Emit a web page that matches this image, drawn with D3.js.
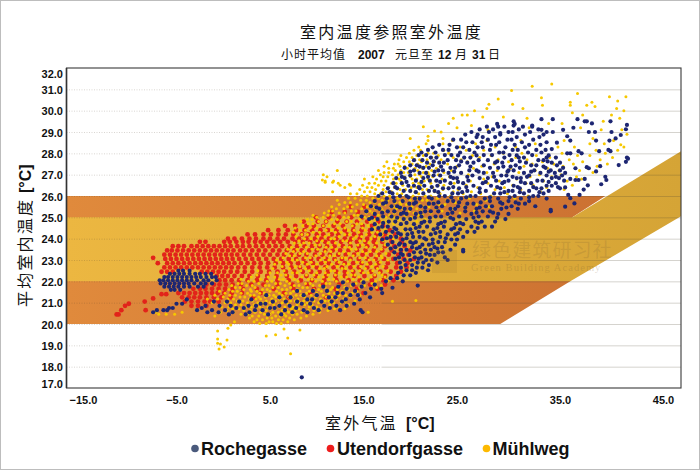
<!DOCTYPE html>
<html>
<head>
<meta charset="utf-8">
<script src="https://cdn.jsdelivr.net/npm/d3@7"></script>
<style>
html, body { margin: 0; padding: 0; background: #fff; }
svg { display: block; }
.tick-label { font: bold 11px "Liberation Sans", Arial, sans-serif; fill: #111; }
.cjk { font-family: "Noto Sans CJK SC", sans-serif; fill: #111; }
.latin { font-family: "Liberation Sans", Arial, sans-serif; font-weight: bold; fill: #111; }
</style>
</head>
<body>
<div id="chart"></div>
<script>
// tick labels
var xTicks = [-15, -5, 5, 15, 25, 35, 45];
var yTicks = [17, 18, 19, 20, 21, 22, 23, 24, 25, 26, 27, 28, 29, 30, 31, 32];

// comfort bands, [outdoor, indoor] in deg C
var outerBand = [[-16.8,20],[29.2,20],[36,22],[36.2,25],[39.4,26],[-16.8,26]];
var innerBand = [[-16.8,22],[36,22],[46.75,25.05],[46.75,28.1],[36.2,25],[-16.8,25]];

// series; dense clouds are a hand-read thinning, one row per indoor temp
var utendorfRows = [
[25.5,[13.6,15.1]],
[25.25,[11.6,13,14.4]],
[25,[9.9,11.3,12.4,13.7,14.9,16.1]],
[24.8,[8.6,10.1,11,12.2,13.2,14.3,15.4,16.6]],
[24.6,[6.6,7.7,8.9,9.7,10.7,11.8,12.8,13.9,14.9,15.9,17.1]],
[24.4,[4.8,5.9,6.9,7.8,8.7,9.5,10.4,11.2,12.1,13,13.9,14.8,15.7,16.6,17.8]],
[24.2,[2.6,3.4,4.3,5.1,5.9,6.7,7.5,8.4,9.1,10,10.7,11.6,12.3,13.2,14,14.7,15.6,16.4,17.3,18.4]],
[24,[0.5,1.2,2,2.8,3.5,4.3,5,5.8,6.5,7.4,8.1,8.9,9.8,10.5,11.3,12.1,13,13.7,14.6,15.4,16.2,17.1,18,19]],
[23.85,[-2.5,-1.9,0.1,0.7,1.4,2.1,2.7,3.4,4,4.7,5.4,6.1,6.9,7.7,8.5,9.3,10.1,10.9,11.7,12.6,13.5,14.3,15.2,16.1,17,18,19.1]],
[23.65,[-5.4,-4.8,-4.2,-3.4,-2.8,-2.2,-1.6,-1,-0.4,0.2,0.8,1.5,2.1,2.8,3.5,4.2,4.9,5.6,6.3,7.1,7.9,8.7,9.5,10.3,11.1,11.9,12.8,13.6,14.5,15.4,16.3,17.3,18.3,19.4]],
[23.45,[-6,-5.5,-4.9,-4.3,-3.7,-3.1,-2.5,-1.9,-1.3,-0.7,-0.1,0.5,1.1,1.8,2.4,3.1,3.8,4.5,5.3,6,6.8,7.6,8.4,9.2,10,10.9,11.7,12.5,13.4,14.3,15.2,16.1,17,18,19,20]],
[23.25,[-6.3,-5.7,-5.1,-4.5,-3.9,-3.3,-2.7,-2.1,-1.5,-0.9,-0.3,0.3,0.9,1.5,2.2,2.9,3.6,4.3,5,5.8,6.5,7.3,8.1,8.9,9.8,10.6,11.4,12.3,13.1,14,14.9,15.8,16.7,17.7,18.7,19.8]],
[23.1,[-7.5]],
[23.05,[-6.2,-5.6,-5,-4.4,-3.8,-3.2,-2.6,-2,-1.4,-0.8,-0.2,0.4,1,1.7,2.4,3.1,3.8,4.6,5.4,6.2,7,7.8,8.6,9.4,10.2,11,11.9,12.7,13.6,14.5,15.4,16.3,17.2,18.2,19.3,20.4]],
[22.85,[-7,-6,-5.4,-4.8,-4.2,-3.6,-3,-2.4,-1.8,-1.2,-0.6,0,0.6,1.2,1.9,2.6,3.3,4,4.8,5.6,6.4,7.2,8,8.8,9.6,10.5,11.3,12.2,13,13.9,14.8,15.7,16.6,17.6,18.6,19.7]],
[22.65,[-6.3,-5.7,-5.1,-4.5,-3.9,-3.3,-2.7,-2.1,-1.5,-0.9,-0.3,0.3,0.9,1.6,2.3,3.1,3.9,4.7,5.5,6.4,7.3,8.2,9.1,10,10.9,11.8,12.7,13.6,14.5,15.4,16.4,17.4,18.5,19.6]],
[22.45,[-6.6,-6,-5.4,-2.3,-1.7,-1.1,-0.5,0.1,0.8,1.5,2.3,3.1,4,4.9,5.8,6.7,7.6,8.5,9.4,10.3,11.2,12.1,13,13.9,14.8,15.8,16.8,17.9,19]],
[22.25,[-0.7,-0.1,0.5,1.2,2,2.8,3.7,4.7,5.7,6.8,7.8,8.9,9.9,11,12,13,14,15.1,16.2,17.3,18.5]],
[22.05,[-0.4,0.2,0.9,1.7,2.6,3.6,4.6,5.8,7,8.3,9.5,10.8,12.1,13.4,14.6,15.9,17.1,18.2]],
[21.85,[-1.8,-1,-0.4,0.3,1,1.9,3,4.3,5.8,7.4,9,10.7,12.4,14,15.7,17.3]],
[21.65,[-3.2,-2.5,-1.9,-1.2,-0.5,0.2,1,2.1,3.6,5.4,7.5,9.7,12,14.3,16.5]],
[21.45,[-4.8,-4.2,-3.6,-3,-2.4,-1.8,-1.2,-0.6,0.1,0.9,2,4,6.5,9.3,12.2,15]],
[21.25,[-4.4,-3.7,-3.1,-2.5,-1.8,-1,-0.2,0.8,3.2,7,11]],
[21.05,[-4.1,-3.4,-2.7,-2,-1.4,-0.5]],
[20.85,[-3.4,-2.7,-1.8]]
];
var utendorfSparse = [[-11.4,20.45],[-11.2,20.45],[-10.9,20.65],[-10.5,20.85],[-10.1,20.95],[-8.4,21.05],[-8.3,20.65],[-7.5,21.2],[-6.6,21.4],[-6.1,21.4]];

var muhlwegRows = [
[20.02,[3.9,4.6,5.7,6.2]],
[20.1,[1.2,3.3,4.9,5.3,6.9]],
[20.2,[3.6,4.2,5.9,6.4,7.6]],
[20.28,[2.8,4.7,5.2,7.1,8.3]],
[20.37,[-0.9,3.1,3.8,5.6,6.1,6.7,8.9]],
[20.46,[-6.9,-6.1,-5.2,1.9,2.6,4.4,5,6.5,7.4,7.9,9.6]],
[20.55,[-7.2,-4.4,-0.3,1.1,3.4,4,5.3,5.9,7,8.4,10.3,15.5]],
[20.63,[0.4,2.2,2.9,4.6,6.3,6.8,7.7,9.1,9.7,11.2]],
[20.72,[1,1.7,3.5,4.2,5.1,5.6,7.3,8.1,8.6,10.4,11.9,13]],
[20.8,[-0.2,0.6,2.4,3,3.9,4.8,6,6.6,7.5,9.2,10,12.2]],
[20.9,[1.3,1.9,3.3,4.4,5.4,5.9,7,7.9,8.7,9.5,10.8,11.4,13.4]],
[21,[-1.2,0.2,0.8,2.6,3.7,4.2,5,6.3,6.8,8.2,9,10.2,11.8,12.6]],
[21.08,[1.5,2.1,3.1,4.6,5.6,7.2,7.7,8.6,9.7,10.9,11.3,13.1,14.1]],
[21.17,[-1.7,-0.6,0.5,1.1,2.8,3.5,4,5.2,6,6.5,8,9.3,10.4,12.1,12.9]],
[21.26,[0,1.8,2.3,3.8,4.5,5.6,7,7.4,8.7,9.9,11,11.6,13.6]],
[21.35,[-0.9,0.7,1.3,2.9,3.3,4.9,5.4,6.3,7.8,8.3,9.4,10.7,12.4,13.1,14.6]],
[21.44,[0.2,1.9,2.6,3.9,4.4,6,6.7,7.2,8.9,10,11.3,11.9,13.8,15.2]],
[21.53,[-0.4,1,1.5,3,3.6,5,5.7,7.5,8.2,9.2,10.5,12.7,14.3]],
[21.62,[0.6,2.2,2.9,4.2,4.7,6.3,6.8,7.9,9.7,10.2,11.5,12.2,13.4,15.7]],
[21.71,[1.3,1.8,3.4,5.3,5.9,7.2,8.5,9,10.9,11.7,13,14.6,16.4]],
[21.8,[0.9,2.5,3.1,4.5,4.9,6.6,7.6,8.1,9.6,10.3,12.3,13.7,15.1,16.9]],
[21.9,[1.6,2,3.8,5.6,6.1,7.1,8.8,9.3,11,11.4,12.9,14.2,15.9]],
[22,[2.7,3.3,4.7,5.2,6.8,8,9.9,10.6,12.1,13.3,14.8,16.3,17.6]],
[22.1,[1.9,4,6,6.4,7.6,9.1,9.5,11.3,11.8,13.9,15.4,16.8]],
[22.2,[3,4.8,5.5,7.2,8.4,10.2,10.7,12.6,13.2,14.5,15.8,17.3]],
[22.3,[3.6,6.2,6.7,8.9,9.7,11.2,12,13.7,14.1,16.2,17]],
[22.4,[5,5.8,7.4,7.9,10,10.9,12.4,13.3,15,15.5,16.7]],
[22.5,[3.7,6.5,8.3,9.2,11.5,11.9,13.8,14.6,16,17.6]],
[22.6,[5.3,7.1,8.8,10.3,10.8,12.7,13.1,15.2,16.5]],
[22.7,[6.3,7.7,8.2,9.6,11.1,12.2,14,14.7,15.9,17.1]],
[22.8,[5.5,7,9,10,11.6,12.9,13.4,15.4,16.3]],
[22.9,[6.1,6.8,8.5,9.4,10.9,12.4,14.3,14.9,16.8]],
[23,[5.7,7.4,7.9,10.4,11.3,12,13.6,15.6,16.1,17.6]],
[23.1,[6.4,8.8,9.3,10.8,12.7,13.1,14.6,15.2,17]],
[23.2,[7.1,7.6,9.9,11.4,11.9,13.9,16.4,16.9]],
[23.3,[6.7,8.2,9,10.4,12.4,13.4,14.4,15.3,17.4]],
[23.4,[7.5,8.6,10.9,11.5,12.9,14.9,15.7,16.4]],
[23.5,[6.9,7.9,9.5,10.1,12.1,13.7,14.2,16.9]],
[23.6,[7.3,8.9,11,11.6,13,13.5,15.3,16.2]],
[23.7,[8.2,9.8,10.3,12.4,14.4,14.9,17.3]],
[23.8,[7.6,8.6,9.2,11.2,12,13.6,15.6,16.4]],
[23.9,[8.1,10,10.6,12.8,13.2,14.6,15.1,17.1]],
[24,[8.7,9.4,11.5,11.9,13.9,15.8,16.7,18.2]],
[24.1,[7.8,10.1,10.9,12.4,14.2,14.8,16.2,17.6]],
[24.2,[8.4,9,11.3,13,13.5,15.3,17,18.7]],
[24.3,[7.5,9.6,10.3,12,12.6,14.5,15.9,16.5,18.1]],
[24.4,[8.2,8.8,11,11.6,13.4,14,15.2,17.3,19.3]],
[24.5,[7.7,9.3,10,12.3,13,14.9,16.1,16.8,18.4]],
[24.6,[8.5,10.7,11.3,13.8,15.5,17.6,19,20.3]],
[24.7,[9.1,9.6,11.9,12.5,14.3,14.8,16.4,18.2,19.6]],
[24.8,[8.3,10.2,11,13.2,13.7,15.7,17,17.5,20.7]],
[24.9,[9,9.5,11.6,12.2,14.6,16.2,18.8,19.3,21.6]],
[25,[10,10.7,12.9,13.4,15.1,15.6,17.4,18.2,20.1,22.6]],
[25.1,[9.6,11.2,11.8,14,14.4,16.6,17.8,19.5,20.9,21.3,24]],
[25.2,[10.8,12.4,13,15.3,16,18.3,18.9,20.4,22.2,25.3]],
[25.3,[11.3,11.7,13.7,14.2,15.7,17.1,17.6,19.9,21.1,21.6,23.4,26.7]],
[25.4,[12.1,12.9,14.8,16.3,16.9,18.5,19.2,20.7,22.8,24.6]],
[25.5,[11.6,13.3,13.8,15.4,16,17.9,18.2,20.2,21.5,22,25.7,28.1]],
[25.6,[12.4,14.3,15,16.7,17.3,19,19.6,21,23.1,23.7,26.9]],
[25.7,[13,13.6,15.7,16.2,18.4,18.9,20.5,22.5,24.8,29.4]],
[25.8,[12.2,14.7,15.3,17,17.6,19.3,20,21.3,21.8,23.9,27.8]],
[25.9,[13.4,14.1,16,16.6,18.2,18.7,20.8,22.9,25.2,26.2,30.6]],
[26,[14.8,15.4,17.2,17.8,19.5,20.3,21.6,22.2,24.3,28.3,31.9]],
[26.1,[13.6,14.3,16.2,16.8,18.6,19.1,20.9,23.2,25.6,27.3,29.9]],
[26.2,[11.7,15.1,15.7,17.4,18,20,20.5,22,22.6,24.6,26.4,33.1]],
[26.3,[14.6,16.3,17.1,18.9,19.5,21.3,21.8,23.5,25.1,28.7,31.2,35.4]],
[26.4,[13,15.4,15.9,17.7,18.3,20.1,20.7,22.4,24.1,27,29.6,33.7]],
[26.5,[13.6,14.9,16.6,17.2,19.2,19.8,21.1,23,23.6,25.9,30.4,32.4,36.2]],
[26.6,[12.3,15.6,16.2,18,18.5,20.3,20.9,22.2,24.7,28,31.7,34.6]],
[26.7,[10.9,11.8,16.9,17.4,19,19.6,21.5,22.7,26.3,29.1,33.4,35.7]],
[26.8,[15.1,16.4,18.2,18.8,20.2,20.7,21.9,23.4,25,27.6,30.8,37.1]],
[26.9,[16,17.1,17.6,19.4,20,21.2,22.4,24.2,28.4,32.1,34.2,36.6]],
[27,[10.7,16.8,18.1,18.7,20.5,21,22,23,26.1,29.8,33,35.1]],
[27.1,[17.2,17.7,19.3,19.8,21.4,21.9,23.6,25.4,27.9,31,38.2]],
[27.2,[12.2,16.6,18.4,19,20.3,20.8,22.3,24.4,28.9,32.6,34.9,36.9]],
[27.3,[17.7,18.2,19.7,20.5,21.3,22.8,26.6,30.2,33.8,37.7]],
[27.4,[17.2,18.9,19.4,21,21.7,23.2,25,27.4,31.5,35.3,38.6]],
[27.5,[18.3,18.7,20.2,20.8,22.1,24,28.6,32.3,34.4,36.3,39.6]],
[27.6,[17.5,19.3,19.9,21.2,22.6,26,30,33.3,37.2]],
[27.7,[18.8,20.5,21,21.8,23.3,25.4,29,31.8,35.9,38.9]],
[27.8,[19.6,20.2,22.3,24.6,27.2,30.7,34,40.1]],
[27.9,[19,20.7,21.4,23,26.5,28.3,32.7,36.7,37.9]],
[28,[19.9,21.9,22.5,24.1,29.5,31.3,35.2,39.4]],
[28.15,[20.4,21.1,23.6,25.9,27.6,33.6,38.5,40.6]],
[28.3,[20.9,22.4,25.3,28.7,30.7,34.8,36.4,41.2]],
[28.45,[21.7,23.5,26.8,32.6,37.9,39.3]],
[28.6,[21.9,24.5,27.9,31.2,35.4,40.2]]
];
var muhlwegSparse = [
[-0.6,19.67],[-0.6,19.3],[-0.6,19.1],[-0.3,19.06],[-0.45,18.83],[0.1,18.92],[0.4,19.25],[0.5,19.8],[0.8,19.95],
[4.6,19.44],[5.6,19.5],[6.5,19.76],[6.9,19.34],[7.2,18.6],[8.2,19.72],
[11.1,26.9],[10.6,26.75],[10.9,26.65],[11.7,26.65],[12.5,26.5],[13.5,26.55],
[18.1,21.07],[20.6,21.1],
[34.2,31.25],[32.3,31.15],[30.3,30.95],[36.7,30.8],[33.2,30.6],[29,30.55],[36,30.4],[38.1,30.4],[39.8,30.65],[40.6,30.45],[41.4,30.65],
[28.1,30.3],[30.4,30.3],[33.3,30.25],[37.6,30.25],[38.4,30.2],[36,30.25],[40.5,30.1],[41.2,30],[26.7,30],[27.9,30.1],[31.4,30.1],
[26,29.8],[25.5,29.8],[24.6,29.65],[27.5,29.7],[29.5,29.7],[31.8,29.65],[36.2,29.9],[40,29.8],[40.8,29.65],[39.2,29.5],[37.2,29.8],
[24.1,29.4],[21.4,29.25],[22.6,29.05],[21.9,28.8],[23.3,29],[25,29.2],[26.4,29.3],[28,29.1],[30,29],[32,29.2],[33.9,29.4],[35.2,29.4],[37,29.2],[39,29.1],[41,29.1],[41.5,28.9],[20,28.7],[23.5,28.7],[38.2,28.7],[40.9,28.4]
];

var rocheRows = [
[29.38,[28.9,30.6]],
[29.25,[27.9,29.6,31.4,32.3]],
[29.12,[27.2,28.5,31,32.9]],
[29,[26.4,28.1,30,30.4,32.1]],
[28.88,[25.8,27,29.2,31.6,33.4]],
[28.76,[26.9,27.5,28.7,30.8,33]],
[28.64,[24.6,25.4,28,29.9,30.3,32.4]],
[28.52,[25.9,26.5,27.4,29.1,31.3,33.7]],
[28.4,[23.1,24.2,28.3,28.8,30.6,32,33.1]],
[28.28,[22.4,25,25.6,27,27.5,29.7,31.6]],
[28.16,[21.9,23.5,24.1,26.2,28.2,30.4,30.9,32.7,33.6]],
[28.04,[21.2,22.7,25.3,26.7,29.1,29.5,31.9,33.2]],
[27.92,[20.9,21.7,23.7,24.4,27.6,28.4,30.1,32.3]],
[27.8,[22.2,22.8,25.7,26.3,29.6,31,31.5,33.7,34.6]],
[27.68,[20.4,21.3,24,24.9,27.1,28,30.3,32.9,33.4]],
[27.56,[21.8,23.1,23.6,26,26.6,28.7,29.4,31.7,34.2,35]],
[27.44,[20,20.7,22.4,25.2,27.6,30.7,32.2,32.7,34.7]],
[27.32,[19.4,21.4,22,24.3,24.8,28.2,29,31.1,33.6,35.3]],
[27.2,[20.4,23,23.5,26.2,26.9,30,30.5,32.5,34.1,35]],
[27.08,[19,21,21.7,24.1,25.4,27.6,28.5,31.5,33.1,34.5,35.5]],
[26.96,[20,22.5,23.2,26.5,29.3,29.8,32,33.7,35.2]],
[26.84,[18.5,19.4,21.4,24.6,25,27.2,28,30.8,31.2,34.2,34.9]],
[26.72,[20.6,22.1,22.8,23.7,26.1,28.8,30,32.8,33.3,35.4]],
[26.6,[18.2,19.1,24.3,25.6,27.5,29.4,31.6,32.2,34.6]],
[26.48,[19.8,20.4,21.5,22.9,26.6,28.3,30.5,33.7,34.2]],
[26.36,[17.6,18.6,21,23.5,24.1,25.2,27.2,29.2,31.1,32.7,33.2,35]],
[26.24,[19.3,20,22,22.6,26,27.8,30,30.4,32,33.9]],
[26.12,[17,18.1,21.4,24.5,25.1,28.6,29.2,31.5,33.4]],
[26,[16.6,18.9,19.6,23.1,23.7,26.3,26.8,30.6,32.4,32.9]],
[25.88,[17.5,20.5,21,22.3,25.4,27.7,29,31.2,33.7]],
[25.76,[16.2,18.3,19.2,24,24.6,28.2,30,32]],
[25.64,[17.1,19.9,20.4,22,22.5,26,26.6,29.4,31,31.6]],
[25.52,[15.8,18,18.6,21.1,23.4,25.1,27.8,28.4,30.3,32.6]],
[25.4,[16.7,19.4,20,24.3,24.8,26.9,29.3,30.9]],
[25.28,[15.3,17.6,18.3,21.6,22.2,23,25.8,27.5,28.2,34.1]],
[25.16,[16.2,19,19.6,20.6,24,26.4,29,30]],
[25.04,[14.8,17.1,18,21.2,22.7,23.3,25.2,27.1,28]],
[24.92,[15.6,16.5,19.3,20,24.6,25.9,29.7]],
[24.8,[17.7,18.4,21.5,22.1,23.7,26.8,27.4,28.7]],
[24.68,[16.2,19,20.4,23,24.9,25.6]],
[24.56,[17,17.6,21,21.8,23.6,26.4,27.7,28.4]],
[24.44,[15.9,18.5,19.5,20,22.5,24.4,25.3]],
[24.32,[17.4,18.1,20.9,21.4,23.2,26,26.7]],
[24.2,[16.8,19,19.7,22.2,24,24.8]],
[24.08,[17.9,18.5,20.3,21,23.2,25.6]],
[23.96,[17,19.2,21.7,22.4,24.4,25]],
[23.84,[18.1,20,20.6,23,23.7]],
[23.72,[17.6,18.8,19.4,21.3,22,24.8]],
[23.6,[18.4,20.2,21,22.6,23.4]],
[23.48,[19,19.6,21.6,22.2,24.3,25.6]],
[23.36,[18.3,20.4,21.1,23,23.5]],
[23.24,[19.2,19.9,22.1,22.6]],
[23.12,[18.8,20.5,21.2,23.7]],
[23,[19.4,20,21.7,22.3,24]],
[22.88,[18.9,20.8,21.4,22.9]],
[22.76,[19.5,20.2,22]],
[22.64,[19,20.7,21.3]],
[22.52,[19.6,20.2,21.9]],
[22.4,[18.7,20.6]],
[22.28,[19.3,20]],
[22.15,[17.9,18.6]],
[22,[17.4,19.2]],
// second pass through the thick part of the cloud
[27.9,[25.1,26.9,30.8,33.9]],
[27.62,[22.5,25.4,28.9,31.1,33.8]],
[27.38,[21,23.3,26.3,29.5,30.2,33.4]],
[27.14,[20,22.6,24.7,27.1,29.9,32.2,33.9]],
[26.9,[19.1,21.9,24.3,26,28.6,30.4,31.8,34.6]],
[26.66,[19.6,21.2,23.2,25.1,27.8,29.6,31.2,33.9]],
[26.42,[18.4,20.9,22.3,24.6,25.9,28.9,30.9,32.4,34.8]],
[26.18,[17.8,20.6,23,25.5,27.2,29.6,31.1,33]],
[25.94,[18.2,19.8,22,24.4,25.9,28.2,30.1,32]],
[25.7,[17.4,20.6,23,25.2,27.3,29.2,30.7]],
[25.46,[16.4,18.9,21.6,22.8,25.8,27.2,29.8]],
[25.22,[17,19.3,21.1,24.5,26.9,28.5]],
[24.98,[15.9,18.6,20.5,22.1,24.3,26.6,28.9]],
[24.74,[17.1,19.6,21.2,23.3,25.3,27.1]],
[24.5,[16.6,18.3,20.6,22.9,24.7,27]],
[24.26,[18.7,20.2,22.7,25.1]],
[24.02,[17.5,19.6,21.5,23.8]],
[23.78,[18.9,20.3,22.4]],
[23.54,[17.9,20.7,22.9]],
[23.3,[19,21.7]],
[23.06,[18.4,20.9]],
// cold-weather blob
[22.5,[-4.8,-4.3,-3.6]],
[22.35,[-5.7,-5.2,-4.7,-4.2,-3.6,-3,-2.5,-1.9,-1.3]],
[22.2,[-6.3,-5.9,-5.4,-4.9,-4.4,-3.9,-3.4,-2.9,-2.4,-1.8,-1.2,-0.8]],
[22.05,[-6.8,-6.4,-5.9,-5.4,-4.9,-4.4,-3.9,-3.4,-2.8,-2.1,-1.6,-0.7]],
[21.9,[-6.7,-6.2,-5.7,-5.2,-4.7,-4.2,-3.7,-3.1,-2.4,-1.9,-1.2]],
[21.75,[-6.3,-5.8,-5.3,-4.8,-4.2,-3.6,-2.7,-2.1]],
[21.6,[-5.6,-5.2,-4.6]],
// lower streak
[21.95,[12.8,15]],
[21.85,[13.9,16.2]],
[21.75,[10.7,12.3,14.8]],
[21.65,[13.2,15.8,16.9]],
[21.55,[7.9,9.6,11.1,14.1]],
[21.45,[12.2,12.8,15.2,17]],
[21.35,[4.6,8.6,10,13.6,14.4]],
[21.25,[6,7.2,11.3,12,15.7]],
[21.15,[-3.9,3,9,9.5,13.1,14.6]],
[21.05,[-1,0.4,1.7,5.3,6.7,7.9,10.5,11.6,12.7]],
[20.95,[-5,-4.4,4,4.5,8.4,9.3,14]],
[20.85,[-1.9,-0.4,0.8,2.7,3.5,6,7.1,10.8,12.1,13.2]],
[20.75,[-5.8,-5.4,-2.3,1.4,2.2,5,5.5,7.8,9.7,11.4]],
[20.65,[-7.1,-6.4,-6,-2.8,-1.2,0.2,3.4,4.2,6.6,8.6,10.2,12.5,14.7]],
[20.55,[-7.5,-1.7,-0.5,1,2.8,7.4,9,14.9]],
[20.45,[0.6,2.4,4.8,6.2]]
];
var rocheSparse = [
[8.4,17.5],[18.1,21.7],[20.8,21.8],[25.6,23.4],[36,25.9],
[41.5,29.33],[41.4,29.13],[40.9,28.86],[40.4,28.7],[41.5,27.8],[41.6,27.75],[41.4,27.6],[40.7,27.45],[39.9,29.5],[40,29],[39.8,28.6],[39.7,28.16],[39.9,28.1],
[39.4,26.9],[39.5,26.75],[39,26.55],[37.6,27.35],[37.8,27.3],[38.5,27.15],[38.9,27.4],[38.5,28.6],[38.8,28.1],[38.4,29],[37.8,29],[38.1,29.4],[37.6,29.5],[37.4,29.5],
[36.7,29.6],[36.3,29.2],[35.7,28.8],[36,28.6],[35.3,29.1],[34.3,29.6],[33.2,29.6],[32.3,29.3],[30.5,29.5],[30.5,29.3],[29,29.25],[29.2,28.95],[33.2,29.1],[33.7,29],[34.3,29],
[34.7,28.5],[34.2,28.2],[35.7,28],[36,28],[36.8,28.1],[37.1,28],[36.5,27.3],[36,26.8],[36.5,26.75],[36.8,26.75],[37.4,26.8],[37.3,26.3],[37.7,26.5],[36.9,26.05],[35.8,26.05],
[36.4,25.65],[35.5,25.5],[34.1,25.35],[35.5,26.4]
];

var series = [
  {name: "Utendorfgasse", rows: utendorfRows, sparse: utendorfSparse, color: "#e2231a", r: 2.4},
  {name: "Mühlweg", rows: muhlwegRows, sparse: muhlwegSparse, color: "#f6c800", r: 1.5},
  {name: "Rochegasse", rows: rocheRows, sparse: rocheSparse, color: "#1d2672", r: 2.1}
];

function flatten(s) {
  var pts = s.sparse.slice();
  s.rows.forEach(function (row) {
    row[1].forEach(function (t) { pts.push([t, row[0]]); });
  });
  return pts;
}

var svg = d3.select("#chart").append("svg").attr("width", 700).attr("height", 470);

// picture border
svg.append("rect").attr("x", 0.5).attr("y", 0.5).attr("width", 699).attr("height", 469)
  .attr("fill", "#fff").attr("stroke", "#bdbdbd");

var plot = {left: 66.5, right: 681, top: 68, bottom: 388};

// the printed x ticks are not evenly spaced, so the scale has a bend at 25
var x = d3.scaleLinear().domain([-15, 25, 45]).range([83, 457, 663]);
var y = d3.scaleLinear().domain([17, 32]).range([plot.bottom, plot.top]);

var defs = svg.append("defs");
function fade(id, a, b) {
  var g = defs.append("linearGradient").attr("id", id);
  g.append("stop").attr("offset", "0%").attr("stop-color", a);
  g.append("stop").attr("offset", "100%").attr("stop-color", b);
}
fade("orangeFade", "#e08a3c", "#cc7232");
fade("yellowFade", "#ecb741", "#d5a436");

var line = d3.line().x(function (d) { return x(d[0]); }).y(function (d) { return y(d[1]); });

svg.append("path").attr("d", line(outerBand) + "Z").attr("fill", "url(#orangeFade)");
svg.append("path").attr("d", line(innerBand) + "Z").attr("fill", "url(#yellowFade)");

// grid, dotted on the left, solid on the right
var gridLeft = svg.append("g").attr("transform", "translate(" + plot.left + ",0)")
  .call(d3.axisLeft(y).tickValues(yTicks.slice(1, -1)).tickSize(-(x(17) - plot.left)).tickFormat(""));
gridLeft.select(".domain").remove();
gridLeft.selectAll("line").attr("stroke", "rgba(80,70,50,0.22)").attr("stroke-dasharray", "1 1.5");

var gridRight = svg.append("g").attr("transform", "translate(" + x(17) + ",0)")
  .call(d3.axisLeft(y).tickValues(yTicks.slice(1, -1)).tickSize(-(plot.right - x(17))).tickFormat(""));
gridRight.select(".domain").remove();
gridRight.selectAll("line").attr("stroke", "rgba(80,70,50,0.24)");

// points
series.forEach(function (s) {
  svg.append("g").selectAll("circle").data(flatten(s)).enter().append("circle")
    .attr("cx", function (d) { return x(d[0]); })
    .attr("cy", function (d) { return y(d[1]); })
    .attr("r", s.r)
    .attr("fill", s.color);
});

// watermark
svg.append("rect").attr("x", 432).attr("y", 250).attr("width", 25).attr("height", 23)
  .attr("fill", "rgba(150,105,40,0.16)");
svg.append("text").attr("class", "cjk").attr("x", 472).attr("y", 257)
  .style("font-size", "19px").style("letter-spacing", "1.1px").style("fill", "rgba(130,100,50,0.2)")
  .text("绿色建筑研习社");
svg.append("text").attr("x", 471).attr("y", 271)
  .style("font", "10.5px 'Liberation Serif', serif").style("letter-spacing", "1.05px").style("fill", "rgba(130,100,50,0.25)")
  .text("Green Building Academy");

// frame
svg.append("rect").attr("x", plot.left).attr("y", plot.top)
  .attr("width", plot.right - plot.left).attr("height", plot.bottom - plot.top)
  .attr("fill", "none").attr("stroke", "#3a3a3a").attr("stroke-width", 1.1);
svg.append("line").attr("x1", plot.left).attr("x2", plot.left).attr("y1", plot.top).attr("y2", plot.bottom)
  .attr("stroke", "#333").attr("stroke-width", 1.6);

// axes
var yAxis = svg.append("g").attr("transform", "translate(66,0)")
  .call(d3.axisLeft(y).tickValues(yTicks).tickSize(0).tickPadding(3).tickFormat(d3.format(".1f")));
yAxis.select(".domain").remove();
yAxis.selectAll("text").attr("class", "tick-label")
  .attr("dy", function (d) { return d === 32 ? "9px" : d === 17 ? "-1px" : "4px"; });

var xAxis = svg.append("g").attr("transform", "translate(0," + plot.bottom + ")")
  .call(d3.axisBottom(x).tickValues(xTicks).tickSize(0).tickPadding(8).tickFormat(d3.format(".1f")));
xAxis.select(".domain").remove();
xAxis.selectAll("text").attr("class", "tick-label");

// titles
svg.append("text").attr("class", "cjk").attr("x", 300).attr("y", 38)
  .style("font-size", "16px").style("letter-spacing", "2.3px").text("室内温度参照室外温度");

function sub(txt, px, bold) {
  svg.append("text").attr("class", bold ? "latin" : "cjk").attr("x", px).attr("y", 58.5)
    .style("font-size", "12px").style("letter-spacing", bold ? "0" : "1px").text(txt);
}
sub("小时平均值", 281);
sub("2007", 358, true);
sub("元旦至", 395);
sub("12", 438, true);
sub("月", 455);
sub("31", 472, true);
sub("日", 488);

svg.append("text").attr("class", "cjk").attr("x", 325).attr("y", 429)
  .style("font-size", "16px").style("letter-spacing", "2.2px").text("室外气温");
svg.append("text").attr("class", "latin").attr("x", 406).attr("y", 429)
  .style("font-size", "16px").text("[°C]");

var yTitle = svg.append("g").attr("transform", "translate(31,307) rotate(-90)");
yTitle.append("text").attr("class", "cjk").attr("x", 0).attr("y", 0)
  .style("font-size", "16px").style("letter-spacing", "2.2px").text("平均室内温度");
yTitle.append("text").attr("class", "latin").attr("x", 114).attr("y", 0)
  .style("font-size", "16px").text("[°C]");

// legend
var legendItems = [
  {label: "Rochegasse", color: "#4a5a7c", cx: 195, tx: 201},
  {label: "Utendorfgasse", color: "#ee1c1c", cx: 330.5, tx: 337},
  {label: "Mühlweg", color: "#fdb900", cx: 486.5, tx: 492.5}
];
legendItems.forEach(function (d) {
  svg.append("circle").attr("cx", d.cx).attr("cy", 448.5).attr("r", 3.8).attr("fill", d.color);
  svg.append("text").attr("class", "latin").attr("x", d.tx).attr("y", 454.5)
    .style("font-size", "18px").text(d.label);
});
</script>
</body>
</html>
